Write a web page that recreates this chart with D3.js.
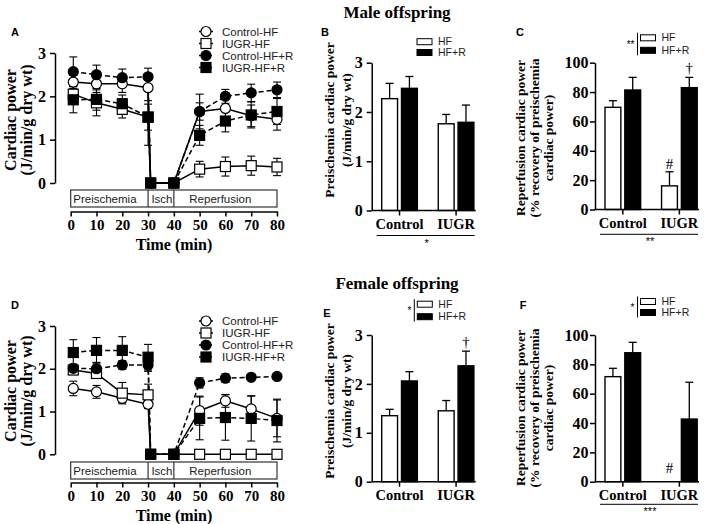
<!DOCTYPE html>
<html><head><meta charset="utf-8">
<script src="https://cdn.jsdelivr.net/npm/d3@7"></script>
<style>body{margin:0;background:#fff} svg{display:block;background:#fff}</style>
</head><body><svg id="c" width="709" height="524"></svg>
<script>
// ---------- data ----------
const times = [1,10,20,30,31,40,50,60,70,80];
const timeTicks = [0,10,20,30,40,50,60,70,80];
const powerTicks = [0,1,2,3];
const pctTicks = [0,20,40,60,80,100];
const lineSeriesNames = ["Control-HF","IUGR-HF","Control-HF+R","IUGR-HF+R"];
const phaseNames = ["Preischemia","Isch","Reperfusion"];
const phaseBounds = [0,30,40,80];
const phaseLabelAt = [1,31.3,46];

// Male offspring (A)
const maleControlHF     = [2.33,2.29,2.29,2.20,0,0,1.65,1.72,1.55,1.47];
const maleControlHFErr  = [0.15,0.20,0.20,0.30,0,0,0.40,0.35,0.25,0.25];
const maleIUGRHF        = [2.05,1.85,1.70,1.52,0,0,0.32,0.38,0.40,0.37];
const maleIUGRHFErr     = [0.20,0.30,0.20,0.30,0,0,0.18,0.22,0.22,0.20];
const maleControlHFR    = [2.57,2.50,2.43,2.45,0,0,1.65,2.00,2.08,2.15];
const maleControlHFRErr = [0.34,0.22,0.20,0.20,0,0,0.20,0.16,0.20,0.18];
const maleIUGRHFR       = [1.92,1.93,1.83,1.52,0,0,1.10,1.43,1.57,1.65];
const maleIUGRHFRErr    = [0.30,0.25,0.20,0.65,0,0,0.23,0.25,0.30,0.30];
// Female offspring (D)
const femaleControlHF     = [1.54,1.46,1.31,1.17,0,0,1.02,1.25,1.06,0.84];
const femaleControlHFErr  = [0.17,0.15,0.10,0.10,0,0,0.34,0.15,0.30,0.43];
const femaleIUGRHF        = [1.97,1.89,1.43,1.39,0,0,0,0,0,0];
const femaleIUGRHFErr     = [0.10,0.10,0.25,0.25,0,0,0,0,0,0];
const femaleControlHFR    = [2.01,2.00,2.09,2.09,0,0,1.67,1.78,1.80,1.82];
const femaleControlHFRErr = [0.10,0.15,0.10,0.15,0,0,0.12,0.10,0.05,0.05];
const femaleIUGRHFR       = [2.38,2.43,2.43,2.27,0,0,0.84,0.86,0.84,0.79];
const femaleIUGRHFRErr    = [0.30,0.30,0.32,0.30,0,0,0.50,0.53,0.53,0.50];

// Bar panels
const groups = ["Control","IUGR"];
const barSeriesNames = ["HF","HF+R"];
const malePreHF = [2.27,1.76],    malePreHFErr = [0.31,0.19];
const malePreHFR = [2.48,1.79],   malePreHFRErr = [0.24,0.35];
const maleRecHF = [69.6,16.1],    maleRecHFErr = [4.5,9.6];
const maleRecHFR = [81.4,83.0],   maleRecHFRErr = [8.6,7.0];
const femalePreHF = [1.35,1.45],  femalePreHFErr = [0.13,0.21];
const femalePreHFR = [2.06,2.37], femalePreHFRErr = [0.19,0.30];
const femaleRecHF = [71.6,0],     femaleRecHFErr = [5.7,0];
const femaleRecHFR = [87.9,42.7], femaleRecHFRErr = [7.1,25.1];

// ---------- drawing ----------
const svg = d3.select("#c");
const SERIF = "'Liberation Serif','Times New Roman',serif";
const SANS = "'Liberation Sans',Arial,sans-serif";

function styleAxis(sel, size){
  sel.select(".domain").attr("stroke","#000").attr("stroke-width",1.5);
  sel.selectAll(".tick line").attr("stroke","#000").attr("stroke-width",1.5);
  sel.selectAll(".tick text").attr("font-family",SERIF).attr("font-weight","bold")
     .attr("font-size",size||15).attr("fill","#000");
}

function vtitle(lines, cx, cy, dx, size){
  lines.forEach((t,i)=>{
    svg.append("text").attr("transform",`translate(${cx+i*dx},${cy}) rotate(-90)`)
      .attr("text-anchor","middle").attr("dy","0.35em")
      .attr("font-family",SERIF).attr("font-weight","bold").attr("font-size",size)
      .text(t);
  });
}

function marker(g, shape, filled, cx, cy){
  if(shape==="circle"){
    g.append("circle").attr("cx",cx).attr("cy",cy).attr("r",5)
      .attr("fill",filled?"#000":"#fff").attr("stroke","#000").attr("stroke-width",1.2);
  } else {
    g.append("rect").attr("x",cx-5).attr("y",cy-5).attr("width",10).attr("height",10)
      .attr("fill",filled?"#000":"#fff").attr("stroke","#000").attr("stroke-width",1.2);
  }
}

function linePanel(cfg){
  const g = svg.append("g");
  const x = d3.scaleLinear().domain([0,80]).range([70.7,277]);
  const y = d3.scaleLinear().domain([0,3]).range([cfg.yBot,cfg.yTop]);
  const ya = g.append("g").attr("transform","translate(55,0)")
    .call(d3.axisLeft(y).tickValues(powerTicks).tickFormat(d3.format("d")).tickSize(5).tickPadding(4).tickSizeOuter(0));
  styleAxis(ya,16);
  const xa = g.append("g").attr("transform",`translate(0,${cfg.axisY})`)
    .call(d3.axisBottom(x).tickValues(timeTicks).tickSize(5).tickPadding(3).tickSizeOuter(0));
  styleAxis(xa,15);
  g.append("text").attr("x",174).attr("y",cfg.axisY+33).attr("dy","0.35em").attr("text-anchor","middle")
    .attr("font-family",SERIF).attr("font-weight","bold").attr("font-size",16).text("Time (min)");
  g.append("rect").attr("x",x(phaseBounds[0])).attr("y",cfg.boxTop)
    .attr("width",x(phaseBounds[3])-x(phaseBounds[0])).attr("height",cfg.boxBot-cfg.boxTop)
    .attr("fill","#fff").attr("stroke","#333").attr("stroke-width",1.2);
  [phaseBounds[1],phaseBounds[2]].forEach(b=>{
    g.append("line").attr("x1",x(b)).attr("x2",x(b)).attr("y1",cfg.boxTop).attr("y2",cfg.boxBot)
      .attr("stroke","#333").attr("stroke-width",1.2);
  });
  phaseNames.forEach((n,i)=>{
    g.append("text").attr("x",x(phaseLabelAt[i])).attr("y",(cfg.boxTop+cfg.boxBot)/2).attr("dy","0.35em")
      .attr("font-family",SANS).attr("font-size",11.5).attr("fill","#222").text(n);
  });
  const line = d3.line().x((d,i)=>x(times[i])).y(d=>y(d));
  cfg.series.forEach(s=>{
    g.append("path").attr("d",line(s.vals)).attr("fill","none").attr("stroke","#000")
      .attr("stroke-width",1.5).attr("stroke-dasharray",s.dashed?"5,3":null);
  });
  cfg.series.forEach(s=>{
    s.vals.forEach((v,i)=>{
      const e = s.errs[i]; if(!e) return;
      const cx = x(times[i]);
      g.append("line").attr("x1",cx).attr("x2",cx).attr("y1",y(v-e)).attr("y2",y(v+e)).attr("stroke","#000").attr("stroke-width",1.1);
      [v-e,v+e].forEach(t=>g.append("line").attr("x1",cx-4).attr("x2",cx+4).attr("y1",y(t)).attr("y2",y(t)).attr("stroke","#000").attr("stroke-width",1.1));
    });
  });
  cfg.series.forEach(s=>{
    s.vals.forEach((v,i)=>marker(g,s.shape,s.filled,x(times[i]),y(v)));
  });
  cfg.series.forEach((s,i)=>{
    const ly = cfg.legendY0 + i*12;
    g.append("line").attr("x1",199).attr("x2",213).attr("y1",ly).attr("y2",ly).attr("stroke","#000")
      .attr("stroke-width",1.5).attr("stroke-dasharray",s.dashed?"3,2":null);
    marker(g,s.shape,s.filled,206,ly);
    g.append("text").attr("x",222).attr("y",ly).attr("dy","0.35em").attr("font-family",SANS)
      .attr("font-size",11.5).attr("fill","#222").text(lineSeriesNames[i]);
  });
}

function barPanel(cfg){
  const g = svg.append("g");
  const y = d3.scaleLinear().domain([0,cfg.max]).range([cfg.yBot,cfg.yTop]);
  const x0 = d3.scaleBand().domain(groups).range([cfg.L+10,cfg.R-1.8]).paddingInner(0.37);
  const x1 = d3.scaleBand().domain(barSeriesNames).range([0,x0.bandwidth()]).paddingInner(0.2);
  const ya = g.append("g").attr("transform",`translate(${cfg.L},0)`)
    .call(d3.axisLeft(y).tickValues(cfg.ticks).tickFormat(d3.format("d")).tickSize(5).tickPadding(cfg.pad).tickSizeOuter(0));
  styleAxis(ya,16);
  const vals = [cfg.hf,cfg.hfr], errs=[cfg.hfErr,cfg.hfrErr];
  groups.forEach((gr,gi)=>{
    barSeriesNames.forEach((s,si)=>{
      const v = vals[si][gi], e = errs[si][gi];
      const bx = x0(gr)+x1(s), bw = x1.bandwidth();
      if(v>0){
        if(e>0){
          const cx = bx+bw/2;
          g.append("line").attr("x1",cx).attr("x2",cx).attr("y1",y(v)).attr("y2",y(v+e)).attr("stroke","#000").attr("stroke-width",1.3);
          g.append("line").attr("x1",cx-4).attr("x2",cx+4).attr("y1",y(v+e)).attr("y2",y(v+e)).attr("stroke","#000").attr("stroke-width",1.3);
        }
        g.append("rect").attr("x",bx).attr("y",y(v)).attr("width",bw).attr("height",y(0)-y(v))
          .attr("fill",si===0?"#fff":"#000").attr("stroke","#000").attr("stroke-width",1.4);
      }
    });
  });
  g.append("line").attr("x1",cfg.L).attr("x2",cfg.R).attr("y1",y(0)).attr("y2",y(0)).attr("stroke","#000").attr("stroke-width",1.5);
  const xa = g.append("g").attr("transform",`translate(0,${y(0)})`)
    .call(d3.axisBottom(x0).tickSize(5).tickPadding(3).tickSizeOuter(0));
  xa.select(".domain").remove();
  styleAxis(xa,14.5);
  (cfg.marks||[]).forEach(m=>{
    const bx = x0(groups[m.g])+x1(barSeriesNames[m.s])+x1.bandwidth()/2;
    const v = vals[m.s][m.g], e = errs[m.s][m.g];
    g.append("text").attr("x",bx).attr("y",y(v+e)-m.off).attr("text-anchor","middle")
      .attr("font-family",SERIF).attr("font-size",15).attr("fill","#000").text(m.t);
  });
  if(cfg.under){
    g.append("line").attr("x1",cfg.L+5).attr("x2",cfg.R-1).attr("y1",cfg.under.y).attr("y2",cfg.under.y).attr("stroke","#000").attr("stroke-width",1);
    g.append("text").attr("x",(cfg.L+cfg.R)/2+3).attr("y",cfg.under.y+11).attr("text-anchor","middle")
      .attr("font-family",SANS).attr("font-size",11).text(cfg.under.t);
  }
  const lg = cfg.legend;
  barSeriesNames.forEach((s,i)=>{
    const ly = lg.y + i*lg.dy;
    g.append("rect").attr("x",lg.x).attr("y",ly-3).attr("width",15).attr("height",6)
      .attr("fill",i===0?"#fff":"#000").attr("stroke","#000").attr("stroke-width",1);
    g.append("text").attr("x",lg.x+21).attr("y",ly).attr("dy","0.35em").attr("font-family",SANS)
      .attr("font-size",10.5).attr("fill","#222").text(s);
  });
  if(lg.star){
    g.append("line").attr("x1",lg.x-3).attr("x2",lg.x-3).attr("y1",lg.y-5).attr("y2",lg.y+lg.dy+5).attr("stroke","#000").attr("stroke-width",1);
    g.append("text").attr("x",lg.x-6).attr("y",lg.y+lg.dy/2+4).attr("text-anchor","end")
      .attr("font-family",SANS).attr("font-size",10).text(lg.star);
  }
}

svg.append("text").attr("x",397).attr("y",12).attr("dy","0.35em").attr("text-anchor","middle")
  .attr("font-family",SERIF).attr("font-weight","bold").attr("font-size",17).text("Male offspring");
svg.append("text").attr("x",397).attr("y",283).attr("dy","0.35em").attr("text-anchor","middle")
  .attr("font-family",SERIF).attr("font-weight","bold").attr("font-size",17).text("Female offspring");

[["A",15,32],["B",325,32],["C",520,32],["D",15,305],["E",327,313],["F",523,305]].forEach(([t,x,y])=>{
  svg.append("text").attr("x",x).attr("y",y).attr("dy","0.35em").attr("text-anchor","middle")
    .attr("font-family",SANS).attr("font-weight","bold").attr("font-size",11).text(t);
});

vtitle(["Cardiac power","(J/min/g dry wt)"],10,120,16,16);
vtitle(["Cardiac power","(J/min/g dry wt)"],10,391,16,16);
vtitle(["Preischemia cardiac power","(J/min/g dry wt)"],329,120,17,13.5);
vtitle(["Preischemia cardiac power","(J/min/g dry wt)"],329,401,17,13.5);
vtitle(["Reperfusion cardiac power","(% recovery of preischemia","cardiac power)"],520,138,14.3,13.5);
vtitle(["Reperfusion cardiac power","(% recovery of preischemia","cardiac power)"],520,408,14.3,13.5);

linePanel({yTop:53,yBot:183,axisY:211.5,boxTop:190,boxBot:207,legendY0:31.5,series:[
  {vals:maleControlHF,errs:maleControlHFErr,shape:"circle",filled:false,dashed:false},
  {vals:maleIUGRHF,errs:maleIUGRHFErr,shape:"square",filled:false,dashed:false},
  {vals:maleControlHFR,errs:maleControlHFRErr,shape:"circle",filled:true,dashed:true},
  {vals:maleIUGRHFR,errs:maleIUGRHFRErr,shape:"square",filled:true,dashed:true}]});
linePanel({yTop:326,yBot:454.3,axisY:482.5,boxTop:462,boxBot:479,legendY0:321,series:[
  {vals:femaleControlHF,errs:femaleControlHFErr,shape:"circle",filled:false,dashed:false},
  {vals:femaleIUGRHF,errs:femaleIUGRHFErr,shape:"square",filled:false,dashed:false},
  {vals:femaleControlHFR,errs:femaleControlHFRErr,shape:"circle",filled:true,dashed:true},
  {vals:femaleIUGRHFR,errs:femaleIUGRHFRErr,shape:"square",filled:true,dashed:true}]});

barPanel({L:371.7,R:475.7,yTop:62.7,yBot:210.5,max:3,ticks:powerTicks,pad:4,
  hf:malePreHF,hfErr:malePreHFErr,hfr:malePreHFR,hfrErr:malePreHFRErr,
  under:{y:235.5,t:"*"},legend:{x:417,y:41.7,dy:10.8}});
barPanel({L:595,R:699,yTop:62.7,yBot:209.5,max:100,ticks:pctTicks,pad:1.5,
  hf:maleRecHF,hfErr:maleRecHFErr,hfr:maleRecHFR,hfrErr:maleRecHFRErr,
  marks:[{g:1,s:0,t:"#",off:3},{g:1,s:1,t:"†",off:4}],
  under:{y:234.3,t:"**"},legend:{x:640.5,y:37.8,dy:12.5,star:"**"}});
barPanel({L:371.7,R:475.7,yTop:335,yBot:481.7,max:3,ticks:powerTicks,pad:4,
  hf:femalePreHF,hfErr:femalePreHFErr,hfr:femalePreHFR,hfrErr:femalePreHFRErr,
  marks:[{g:1,s:1,t:"†",off:4}],
  legend:{x:417.3,y:304.2,dy:12.5,star:"*"}});
barPanel({L:595,R:699,yTop:335,yBot:481.7,max:100,ticks:pctTicks,pad:1.5,
  hf:femaleRecHF,hfErr:femaleRecHFErr,hfr:femaleRecHFR,hfrErr:femaleRecHFRErr,
  marks:[{g:1,s:0,t:"#",off:9}],
  under:{y:504.3,t:"***"},legend:{x:640.5,y:301.5,dy:11,star:"*"}});
</script></body></html>
